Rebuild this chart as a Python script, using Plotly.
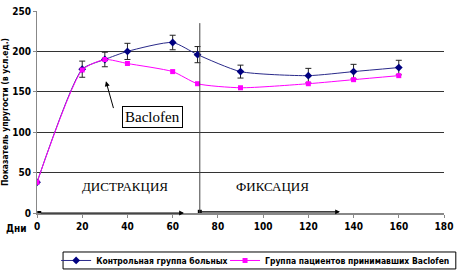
import plotly.graph_objects as go

days = [0, 20, 30, 40, 60, 71, 90, 120, 140, 160]
control = [38, 178, 190, 200, 211, 196, 175, 170, 175, 180]
control_err = [0, 10, 9, 10, 9, 10, 8, 9, 9, 9]
baclofen = [38, 177, 190, 185, 175, 160, 155, 160, 165, 170]

x_ticks = [0, 20, 40, 60, 80, 100, 120, 140, 160, 180]
y_ticks = [0, 50, 100, 150, 200, 250]

name_control = "Контрольная группа больных"
name_baclofen = "Группа пациентов принимавших Baclofen"

NARROW = "DejaVu Sans Condensed, Liberation Sans Narrow, sans-serif"
SERIF = "Liberation Serif, Times New Roman, serif"

fig = go.Figure()

fig.add_trace(go.Scatter(
    x=days, y=control, name=name_control, mode="lines+markers", legend="legend",
    line=dict(color="#2a2a8a", width=1, shape="spline", smoothing=0.6),
    marker=dict(symbol="diamond", size=6, color="#000080"),
    error_y=dict(type="data", array=control_err, color="#222222", thickness=1, width=3),
))
fig.add_trace(go.Scatter(
    x=days, y=baclofen, name=name_baclofen, mode="lines+markers", legend="legend2",
    line=dict(color="#ff00ff", width=1, shape="spline", smoothing=0.6),
    marker=dict(symbol="square", size=5, color="#ff00ff"),
))

# vertical phase separator
fig.add_shape(type="line", x0=72, x1=72, y0=0, y1=235, xref="x", yref="y",
              line=dict(color="#444444", width=1))

# phase arrows along the axis
fig.add_annotation(x=65, y=0, ax=1, ay=0, xref="x", yref="y", axref="x", ayref="y",
                   text="", showarrow=True, arrowhead=2, arrowsize=0.8, arrowwidth=1.2,
                   arrowcolor="#000000")
fig.add_annotation(x=134, y=1.5, ax=72, ay=1.5, xref="x", yref="y", axref="x", ayref="y",
                   text="", showarrow=True, arrowhead=2, arrowsize=0.8, arrowwidth=1.2,
                   arrowcolor="#000000")
fig.add_trace(go.Scatter(x=[1, 72], y=[0, 1.5], mode="markers", showlegend=False,
                         marker=dict(symbol="square", size=4, color="#000000"),
                         cliponaxis=False, hoverinfo="skip"))

fig.add_annotation(x=39, y=33, xref="x", yref="y", text="ДИСТРАКЦИЯ", showarrow=False,
                   font=dict(family=SERIF, size=13, color="#000000"))
fig.add_annotation(x=104, y=33, xref="x", yref="y", text="ФИКСАЦИЯ", showarrow=False,
                   font=dict(family=SERIF, size=13, color="#000000"))

# Baclofen callout
fig.add_annotation(x=51, y=119, xref="x", yref="y", text="Baclofen", showarrow=False,
                   font=dict(family=SERIF, size=15, color="#000000"),
                   bordercolor="#000000", borderwidth=1, borderpad=2, bgcolor="#ffffff")
fig.add_annotation(x=30.5, y=163, ax=34, ay=128, xref="x", yref="y", axref="x", ayref="y",
                   text="", showarrow=True, arrowhead=2, arrowsize=1, arrowwidth=1,
                   arrowcolor="#000000")

fig.add_annotation(x=-0.02, y=-0.075, xref="paper", yref="paper", text="Дни",
                   showarrow=False, xanchor="right", yanchor="middle",
                   font=dict(family=NARROW, size=10, color="#000000", weight="bold"))

# legend frame around the two legend groups
fig.add_shape(type="rect", xref="paper", yref="paper", x0=0.064, x1=1.029, y0=-0.277, y1=-0.193,
              line=dict(color="#000000", width=1), fillcolor="rgba(0,0,0,0)")

legend_font = dict(family=NARROW, size=8.5, color="#000000", weight="bold")
fig.update_layout(
    width=460, height=280,
    margin=dict(l=37, r=16, t=11, b=67, autoexpand=False),
    paper_bgcolor="#ffffff", plot_bgcolor="#ffffff",
    font=dict(family=NARROW, size=10, color="#000000"),
    showlegend=True,
    legend=dict(orientation="h", x=0.047, y=-0.235, xanchor="left", yanchor="middle",
                borderwidth=0, bgcolor="rgba(0,0,0,0)", font=legend_font, itemwidth=30),
    legend2=dict(orientation="h", x=0.462, y=-0.235, xanchor="left", yanchor="middle",
                 borderwidth=0, bgcolor="rgba(0,0,0,0)", font=legend_font, itemwidth=30),
    xaxis=dict(range=[0, 180], tickvals=x_ticks, ticktext=[str(v) for v in x_ticks],
               showgrid=False, zeroline=False, showline=True, linecolor="#888888",
               linewidth=2, ticks="outside", ticklen=3, tickcolor="#888888",
               automargin=False,
               tickfont=dict(family=NARROW, size=10, weight="bold")),
    yaxis=dict(range=[0, 250], tickvals=y_ticks, ticktext=[str(v) for v in y_ticks],
               showgrid=True, gridcolor="#333333", gridwidth=1, zeroline=False,
               showline=True, linecolor="#888888", linewidth=1,
               ticks="outside", ticklen=3, tickcolor="#888888", automargin=False,
               tickfont=dict(family=NARROW, size=10, weight="bold"),
               title=dict(text="Показатель упругости (в усл.ед.)", standoff=2,
                          font=dict(family=NARROW, size=8.5, weight="bold"))),
)

fig.write_html("out.html", config={"displayModeBar": False},
               post_script="document.body.style.margin='0';")
